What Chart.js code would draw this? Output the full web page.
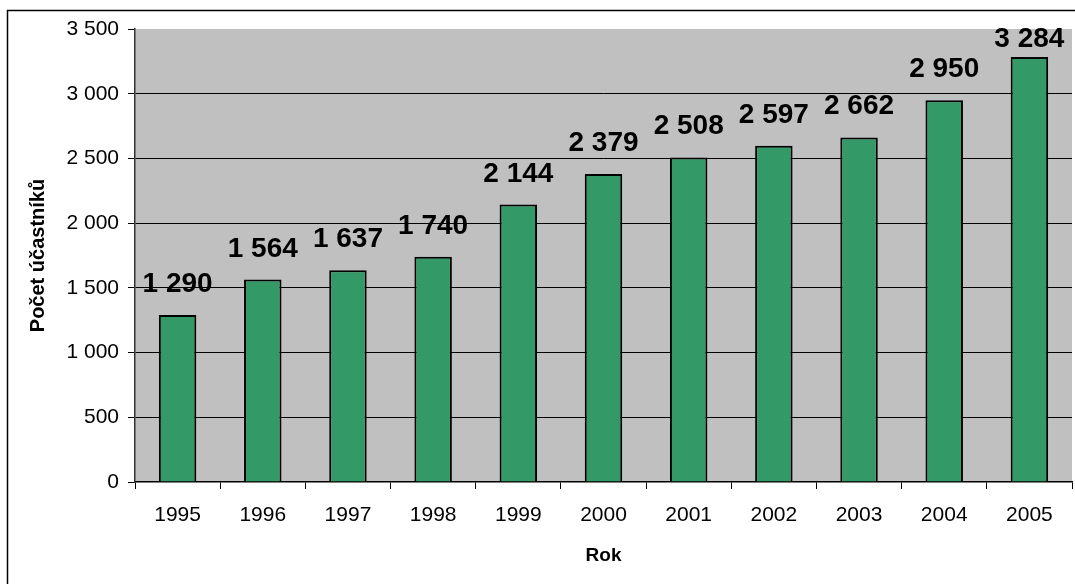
<!DOCTYPE html>
<html>
<head>
<meta charset="utf-8">
<script src="https://cdn.jsdelivr.net/npm/chart.js@4"></script>
<style>
  body { margin: 0; background: #fff; }
  #wrap { width: 1075px; height: 584px; }
</style>
</head>
<body>
<div id="wrap"><canvas id="chart" width="1075" height="584"></canvas></div>
<script>
const years = ["1995", "1996", "1997", "1998", "1999", "2000", "2001", "2002", "2003", "2004", "2005"];
const participants = [1290, 1564, 1637, 1740, 2144, 2379, 2508, 2597, 2662, 2950, 3284];
const yTicks = [0, 500, 1000, 1500, 2000, 2500, 3000, 3500];

const fmt = (n) => String(n).replace(/\B(?=(\d{3})+(?!\d))/g, " ");

// gray plot area + outer frame
const backdrop = {
    id: "backdrop",
    beforeDraw(chart) {
        const { ctx, chartArea } = chart;
        ctx.save();
        ctx.fillStyle = "#c0c0c0";
        ctx.fillRect(chartArea.left, chartArea.top, chartArea.right - chartArea.left, chartArea.bottom - chartArea.top);
        ctx.strokeStyle = "#000";
        ctx.lineWidth = 1.5;
        ctx.strokeRect(7.5, 10.5, chart.width + 20, chart.height + 20);
        ctx.restore();
    }
};

// value labels above bars (kept inside the plot area like Excel does)
const valueLabels = {
    id: "valueLabels",
    afterDatasetsDraw(chart) {
        const { ctx, chartArea } = chart;
        const meta = chart.getDatasetMeta(0);
        ctx.save();
        ctx.font = "bold 28px 'Liberation Sans', Arial, sans-serif";
        ctx.fillStyle = "#000";
        ctx.textAlign = "center";
        ctx.textBaseline = "alphabetic";
        meta.data.forEach((bar, i) => {
            const y = Math.max(bar.y - 23, chartArea.top + 18);
            ctx.fillText(fmt(participants[i]), bar.x, y);
        });
        ctx.restore();
    }
};

new Chart(document.getElementById("chart"), {
    type: "bar",
    data: {
        labels: years,
        datasets: [{
            data: participants,
            backgroundColor: "#339966",
            borderColor: "#000",
            borderWidth: 2,
            barPercentage: 0.44,
            categoryPercentage: 1
        }]
    },
    options: {
        responsive: false,
        animation: false,
        layout: { padding: { left: 0, top: 29, right: 3, bottom: 0 } },
        plugins: { legend: { display: false }, tooltip: { enabled: false } },
        scales: {
            x: {
                grid: { offset: true, drawOnChartArea: false, tickLength: 7, tickColor: "#000" },
                border: { color: "#000", width: 1.5 },
                ticks: { color: "#000", padding: 14, font: { family: "'Liberation Sans', Arial", size: 21 } },
                title: { display: true, text: "Rok", color: "#000", padding: { top: 0, bottom: 17 },
                    font: { family: "'Liberation Sans', Arial", size: 19, weight: "bold" } },
                afterFit(scale) { scale.height = 102; }
            },
            y: {
                min: 0,
                max: 3500,
                afterBuildTicks(scale) { scale.ticks = yTicks.map(v => ({ value: v })); },
                grid: {
                    color: (c) => (c.tick && (c.tick.value === 3500 || c.tick.value === 0)) ? "rgba(0,0,0,0)" : "#000",
                    tickLength: 7,
                    tickColor: "#000",
                    lineWidth: 1
                },
                border: { color: "#333", width: 1.5 },
                ticks: { color: "#000", padding: 9, callback: (v) => fmt(v),
                    font: { family: "'Liberation Sans', Arial", size: 21 } },
                title: { display: true, text: "Počet účastníků", color: "#000", padding: { top: 26, bottom: 0 },
                    font: { family: "'Liberation Sans', Arial", size: 20, weight: "bold" } },
                afterFit(scale) { scale.width = 135; }
            }
        }
    },
    plugins: [backdrop, valueLabels]
});
</script>
</body>
</html>
